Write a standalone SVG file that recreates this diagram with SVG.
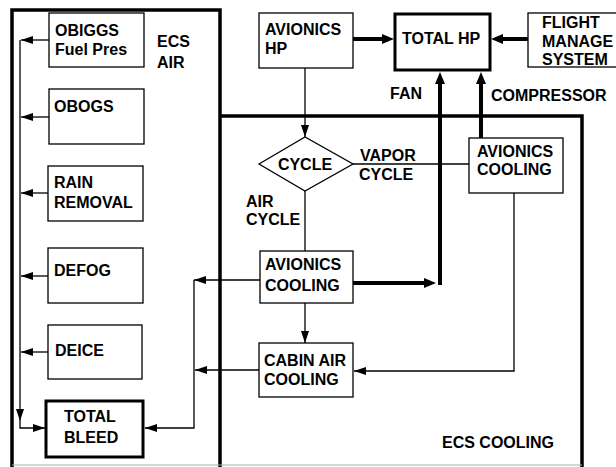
<svg xmlns="http://www.w3.org/2000/svg" width="616" height="467" viewBox="0 0 616 467">
<style>
text{font-family:"Liberation Sans",Arial,sans-serif;font-weight:bold;font-size:16px;fill:#000}
.box{fill:#fff;stroke:#000;stroke-width:1.3}
.tbox{fill:#fff;stroke:#000;stroke-width:3}
.ln{fill:none;stroke:#000;stroke-width:1.3}
.tk{fill:none;stroke:#000;stroke-width:4}
.reg{fill:none;stroke:#000;stroke-width:3.5}
</style>
<defs>
<marker id="a" viewBox="0 0 12 8" refX="12" refY="4" markerWidth="12" markerHeight="8" markerUnits="userSpaceOnUse" orient="auto"><path d="M0,0 L12,4 L0,8 z" fill="#000"/></marker>
<marker id="t" viewBox="0 0 12 10" refX="6" refY="5" markerWidth="12" markerHeight="10" markerUnits="userSpaceOnUse" orient="auto"><path d="M0,0 L12,5 L0,10 z" fill="#000"/></marker>
</defs>
<rect width="616" height="467" fill="#fff"/>

<g id="ecs-air-region">
<path class="reg" d="M12,468 V10 H220 V468"/>
<text x="157" y="47">ECS</text>
<text x="157" y="68">AIR</text>
</g>
<g id="ecs-cooling-region">
<path class="reg" d="M220,116 H582 V468"/>
<line x1="12" y1="465" x2="582" y2="465" stroke="#aaa" stroke-width="1"/>
<text x="442" y="448">ECS COOLING</text>
</g>

<g id="connectors">
<line class="ln" x1="49" y1="40" x2="21" y2="40" marker-end="url(#a)"/>
<line class="ln" x1="49" y1="117" x2="21" y2="117" marker-end="url(#a)"/>
<line class="ln" x1="48" y1="193" x2="21" y2="193" marker-end="url(#a)"/>
<line class="ln" x1="48" y1="276" x2="21" y2="276" marker-end="url(#a)"/>
<line class="ln" x1="48" y1="352" x2="21" y2="352" marker-end="url(#a)"/>
<line class="ln" x1="20" y1="40" x2="20" y2="421" marker-end="url(#a)"/>
<path class="ln" d="M20,421 V428 H45" marker-end="url(#a)"/>
<line class="ln" x1="260" y1="280" x2="194" y2="280" marker-end="url(#a)"/>
<path class="ln" d="M194,280 V428 H145" marker-end="url(#a)"/>
<line class="ln" x1="259" y1="370" x2="195" y2="370" marker-end="url(#a)"/>
<line class="ln" x1="305" y1="68" x2="305" y2="137" marker-end="url(#a)"/>
<line class="ln" x1="305" y1="191" x2="305" y2="251"/>
<line class="ln" x1="353" y1="164" x2="469" y2="164"/>
<line class="ln" x1="305" y1="303" x2="305" y2="343" marker-end="url(#a)"/>
<path class="ln" d="M514,193 V371 H354" marker-end="url(#a)"/>
<line class="tk" x1="353" y1="39" x2="388" y2="39" marker-end="url(#t)"/>
<line class="tk" x1="528" y1="39" x2="497" y2="39" marker-end="url(#t)"/>
<line class="tk" x1="353" y1="283" x2="430" y2="283" marker-end="url(#t)"/>
<line class="tk" x1="440" y1="285" x2="440" y2="78" marker-end="url(#t)"/>
<line class="tk" x1="481" y1="138" x2="481" y2="78" marker-end="url(#t)"/>
<text x="390" y="99">FAN</text>
<text x="491" y="101">COMPRESSOR</text>
<text x="360" y="161">VAPOR</text>
<text x="359" y="180">CYCLE</text>
<text x="246" y="207">AIR</text>
<text x="246" y="225">CYCLE</text>
</g>

<g id="obiggs"><rect class="box" x="49" y="13" width="95" height="54"/><text x="55" y="36">OBIGGS</text><text x="55" y="55">Fuel Pres</text></g>
<g id="obogs"><rect class="box" x="49" y="89" width="95" height="55"/><text x="54" y="112">OBOGS</text></g>
<g id="rain-removal"><rect class="box" x="48" y="166" width="95" height="55"/><text x="54" y="188">RAIN</text><text x="54" y="208">REMOVAL</text></g>
<g id="defog"><rect class="box" x="48" y="248" width="95" height="55"/><text x="54" y="276">DEFOG</text></g>
<g id="deice"><rect class="box" x="48" y="325" width="94" height="54"/><text x="55" y="356">DEICE</text></g>
<g id="total-bleed"><rect class="tbox" x="46" y="401" width="97" height="56"/><text x="64" y="422">TOTAL</text><text x="64" y="443">BLEED</text></g>
<g id="avionics-hp"><rect class="box" x="259" y="13" width="94" height="55"/><text x="265" y="35">AVIONICS</text><text x="265" y="54">HP</text></g>
<g id="total-hp"><rect class="tbox" x="395" y="14" width="95" height="56"/><text x="402" y="44">TOTAL HP</text></g>
<g id="flight-manage-system"><rect class="box" x="528" y="13" width="100" height="54"/><text x="542" y="28">FLIGHT</text><text x="542" y="47">MANAGE</text><text x="542" y="65">SYSTEM</text></g>
<g id="cycle"><polygon class="box" points="259,164 305,137 353,164 305,191"/><text x="305" y="170" text-anchor="middle">CYCLE</text></g>
<g id="avionics-cooling-vapor"><rect class="box" x="469" y="138" width="94" height="55"/><text x="477" y="157">AVIONICS</text><text x="477" y="175">COOLING</text></g>
<g id="avionics-cooling-air"><rect class="box" x="260" y="251" width="93" height="52"/><text x="265" y="270">AVIONICS</text><text x="265" y="291">COOLING</text></g>
<g id="cabin-air-cooling"><rect class="box" x="259" y="343" width="94" height="54"/><text x="264" y="366">CABIN AIR</text><text x="264" y="385">COOLING</text></g>
</svg>
